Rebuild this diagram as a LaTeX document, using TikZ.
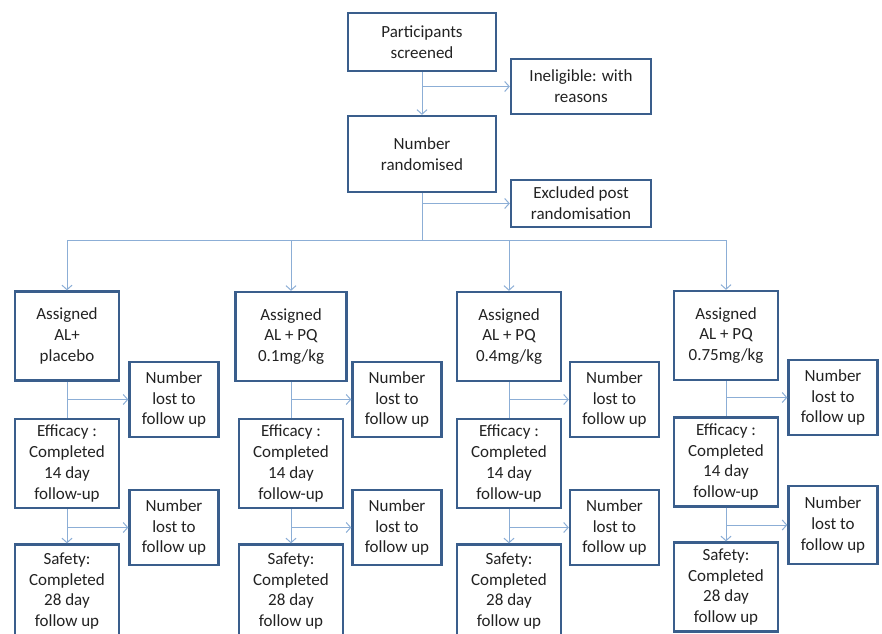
\documentclass[tikz,border=0pt]{standalone}
\usepackage{fontspec}
\setmainfont{Carlito}
\usetikzlibrary{arrows.meta}
\definecolor{boxblue}{HTML}{3A5E8C}
\definecolor{linkblue}{HTML}{8CAED6}
\definecolor{inkgray}{HTML}{222222}
\tikzset{
    every picture/.append style={
        >={Straight Barb[length=4.5pt,width=10pt]}
    }
}
\tikzset{
    flowbox/.style={draw=boxblue, line width=2.3pt, align=center, text=inkgray, inner sep=1pt,
        font=\fontsize{17}{20.7}\selectfont},
    mainbox/.style={flowbox, minimum width=148pt, minimum height=#1},
    sidebox/.style={flowbox, minimum width=140pt, minimum height=#1},
    armbox/.style={flowbox, minimum width=104pt, minimum height=89pt},
    lostbox/.style={flowbox, minimum width=89pt, minimum height=75pt},
    link/.style={draw=linkblue, line width=1pt},
}
\begin{document}
\begin{tikzpicture}[x=1pt, y=1pt]
		\useasboundingbox (0,0) rectangle (882,-633);
		% top of the flow
		\node[mainbox=58pt] (S) at (422,-42) {Participants\\screened};
		\node[sidebox=55pt] (I) at (581,-86.5) {Ineligible: with\\reasons};
		\node[mainbox=76pt] (R) at (422,-154) {Number\\randomised};
		\node[sidebox=47pt] (X) at (581,-203.5) {Excluded post\\randomisation};
		\coordinate (bus) at (422,-240);
		
		% arm 1
		\node[armbox] (A1) at (67,-336) {Assigned\\AL+\\placebo};
		\node[lostbox] (L1) at (174,-399.5) {Number\\lost to\\follow up};
		\node[armbox] (E1) at (67,-463.5) {Efficacy :\\Completed\\14 day\\follow-up};
		\node[lostbox] (M1) at (174,-527.5) {Number\\lost to\\follow up};
		\node[armbox, minimum height=93pt] (F1) at (67,-591) {Safety:\\Completed\\28 day\\follow up};
		% arm 2
		\node[armbox, minimum width=111pt] (A2) at (291,-336.5) {Assigned\\AL + PQ\\0.1mg/kg};
		\node[lostbox] (L2) at (397,-399.5) {Number\\lost to\\follow up};
		\node[armbox] (E2) at (291,-463.5) {Efficacy :\\Completed\\14 day\\follow-up};
		\node[lostbox] (M2) at (397,-527.5) {Number\\lost to\\follow up};
		\node[armbox, minimum height=93pt] (F2) at (291,-591) {Safety:\\Completed\\28 day\\follow up};
		% arm 3
		\node[armbox] (A3) at (509,-336.5) {Assigned\\AL + PQ\\0.4mg/kg};
		\node[lostbox] (L3) at (614.5,-399.5) {Number\\lost to\\follow up};
		\node[armbox] (E3) at (509,-463.5) {Efficacy :\\Completed\\14 day\\follow-up};
		\node[lostbox] (M3) at (614.5,-527.5) {Number\\lost to\\follow up};
		\node[armbox, minimum height=93pt] (F3) at (509,-591) {Safety:\\Completed\\28 day\\follow up};
		% arm 4
		\node[armbox] (A4) at (726,-335.5) {Assigned\\AL + PQ\\0.75mg/kg};
		\node[lostbox] (L4) at (833,-397.5) {Number\\lost to\\follow up};
		\node[armbox] (E4) at (726,-462) {Efficacy :\\Completed\\14 day\\follow-up};
		\node[lostbox, minimum height=78pt] (M4) at (833,-525) {Number\\lost to\\follow up};
		\node[armbox] (F4) at (726,-587) {Safety:\\Completed\\28 day\\follow up};
		
		\draw [link,->] (S) -- (R);
		\draw [link,->] (S.south |- I.west) -- (I.west);
		\draw [link] (R) -- (bus);
		\draw [link,->] (R.south |- X.west) -- (X.west);
		\draw [link] (A1.north |- bus) -- (A4.north |- bus);
		
		\draw [link,->] (A1.north |- bus) -- (A1);
		\draw [link] (A1) -- (E1);
		\draw [link,->] (A1.south |- L1.west) -- (L1.west);
		\draw [link,->] (E1) -- (F1);
		\draw [link,->] (E1.south |- M1.west) -- (M1.west);
		
		\draw [link,->] (A2.north |- bus) -- (A2);
		\draw [link] (A2) -- (E2);
		\draw [link,->] (A2.south |- L2.west) -- (L2.west);
		\draw [link,->] (E2) -- (F2);
		\draw [link,->] (E2.south |- M2.west) -- (M2.west);
		
		\draw [link,->] (A3.north |- bus) -- (A3);
		\draw [link] (A3) -- (E3);
		\draw [link,->] (A3.south |- L3.west) -- (L3.west);
		\draw [link,->] (E3) -- (F3);
		\draw [link,->] (E3.south |- M3.west) -- (M3.west);
		
		\draw [link,->] (A4.north |- bus) -- (A4);
		\draw [link] (A4) -- (E4);
		\draw [link,->] (A4.south |- L4.west) -- (L4.west);
		\draw [link,->] (E4) -- (F4);
		\draw [link,->] (E4.south |- M4.west) -- (M4.west);
		\end{tikzpicture}
\end{document}
